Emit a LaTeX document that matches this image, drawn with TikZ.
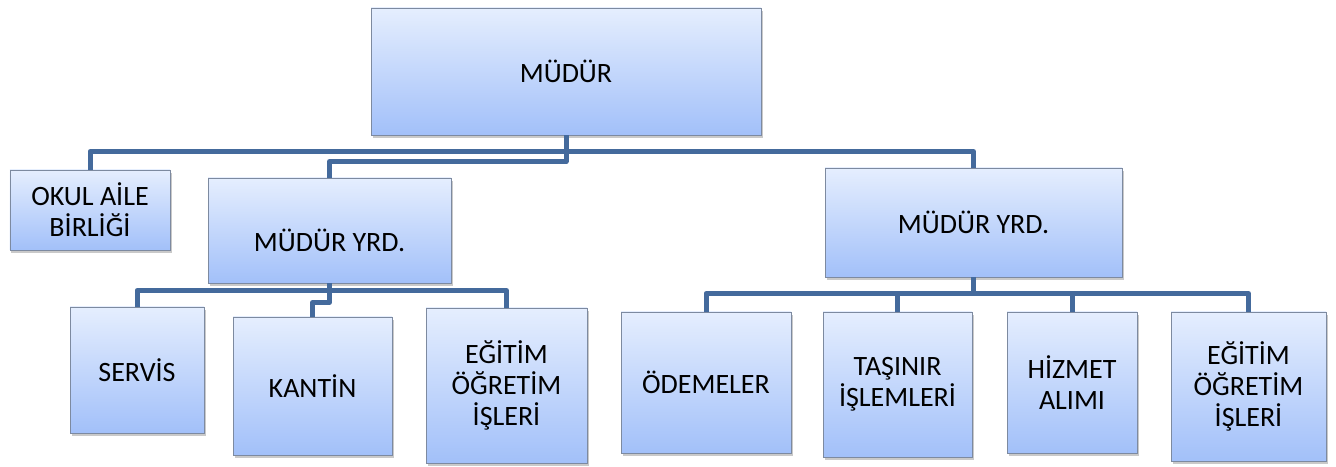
\documentclass[tikz,border=0pt]{standalone}
\usepackage{fontspec}
\setmainfont{Carlito}
\usetikzlibrary{shadows}
\definecolor{boxtop}{RGB}{229,238,254}
\definecolor{boxbot}{RGB}{162,192,249}
\definecolor{boxline}{RGB}{125,138,160}
\definecolor{connc}{RGB}{68,106,156}
\tikzset{
  orgbox/.style={draw=boxline, line width=0.9bp, top color=boxtop, bottom color=boxbot,
    align=center, inner sep=2bp, font=\fontsize{28bp}{31bp}\selectfont,
    drop shadow={shadow xshift=1.5bp, shadow yshift=-3bp, opacity=0.3, fill=black!70}},
  conn/.style={draw=connc, line width=5bp, line join=round}
}
\begin{document}
\begin{tikzpicture}[x=1bp,y=-1bp]
\useasboundingbox (0,0) rectangle (1336,467);
% boxes
\node[orgbox, minimum width=390bp, minimum height=127bp] (mudur) at (566,71.5) {MÜDÜR};
\node[orgbox, minimum width=160bp, minimum height=80bp] (okul) at (90,210) {OKUL AİLE\\BİRLİĞİ};
\node[orgbox, minimum width=243bp, minimum height=105bp] (myrdL) at (329.5,230.5) {\raisebox{-21.5bp}[0pt][0pt]{MÜDÜR YRD.}};
\node[orgbox, minimum width=297bp, minimum height=109bp] (myrdR) at (973.5,222.5) {MÜDÜR YRD.};
\node[orgbox, minimum width=134bp, minimum height=126bp] (servis) at (137,370) {SERVİS};
\node[orgbox, minimum width=159bp, minimum height=138bp] (kantin) at (312.5,386) {KANTİN};
\node[orgbox, minimum width=161bp, minimum height=155bp] (egitimL) at (506.5,385.5) {EĞİTİM\\ÖĞRETİM\\İŞLERİ};
\node[orgbox, minimum width=170bp, minimum height=141bp] (odeme) at (706,382.5) {ÖDEMELER};
\node[orgbox, minimum width=149bp, minimum height=145bp] (tasinir) at (897.5,384.5) {TAŞINIR\\İŞLEMLERİ};
\node[orgbox, minimum width=130bp, minimum height=141bp] (hizmet) at (1072,382.5) {HİZMET\\ALIMI};
\node[orgbox, minimum width=155bp, minimum height=149bp] (egitimR) at (1248.5,386.5) {EĞİTİM\\ÖĞRETİM\\İŞLERİ};
% connectors
\draw[conn] (okul.north) -- ++(0,-18) -| (myrdR.north);
\draw[conn] (mudur.south) -- ++(0,26) -| (myrdL.north);
\draw[conn] (servis.north) -- ++(0,-16) -| (egitimL.north);
\draw[conn] (myrdL.south) -- ++(0,19) -| (kantin.north);
\draw[conn] (odeme.north) -- ++(0,-18) -| (egitimR.north);
\draw[conn] (myrdR.south) -- ++(0,17);
\draw[conn] (tasinir.north) -- ++(0,-18);
\draw[conn] (hizmet.north) -- ++(0,-18);
\end{tikzpicture}
\end{document}
